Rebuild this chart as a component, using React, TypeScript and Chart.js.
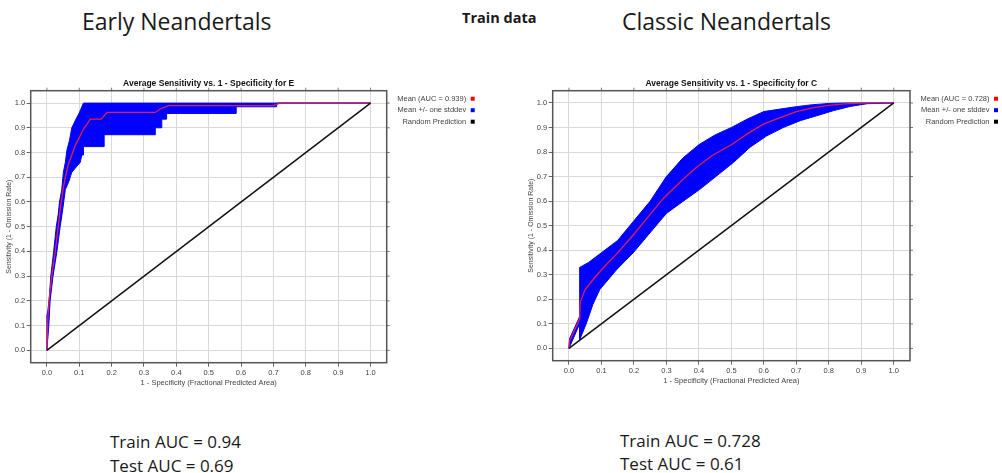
import React, { useEffect, useRef } from 'react';
import { Chart, registerables } from 'chart.js';
Chart.register(...registerables);

// ---------- shared axis ticks ----------
const tickValues = [0, 0.1, 0.2, 0.3, 0.4, 0.5, 0.6, 0.7, 0.8, 0.9, 1.0];
const tickLabels = ['0.0', '0.1', '0.2', '0.3', '0.4', '0.5', '0.6', '0.7', '0.8', '0.9', '1.0'];

// Random prediction diagonal
const randomX = [0, 1];
const randomY = [0, 1];

// ---------- Early Neandertals (E) ----------
const eMeanX = [0, 0.003, 0.008, 0.015, 0.026, 0.035, 0.042, 0.05, 0.057, 0.066, 0.077, 0.088, 0.098, 0.113, 0.124, 0.134, 0.168, 0.178, 0.186, 0.335, 0.35, 0.376, 0.7, 0.72, 1.0];
const eMeanY = [0, 0.13, 0.22, 0.3, 0.4, 0.5, 0.58, 0.65, 0.7, 0.75, 0.79, 0.83, 0.855, 0.895, 0.915, 0.935, 0.935, 0.95, 0.962, 0.962, 0.976, 0.99, 0.99, 1.0, 1.0];
const eUpperX = [0, 0, 0.003, 0.008, 0.012, 0.021, 0.029, 0.035, 0.039, 0.046, 0.051, 0.057, 0.062, 0.07, 0.077, 0.088, 0.1, 0.113, 1.0];
const eUpperY = [0, 0.14, 0.16, 0.22, 0.3, 0.4, 0.5, 0.55, 0.6, 0.65, 0.72, 0.76, 0.81, 0.85, 0.9, 0.93, 0.96, 1.0, 1.0];
const eLowerX = [0, 0.006, 0.01, 0.019, 0.031, 0.041, 0.049, 0.057, 0.067, 0.077, 0.093, 0.103, 0.108, 0.113, 0.113, 0.177, 0.177, 0.335, 0.335, 0.355, 0.355, 0.37, 0.37, 0.585, 0.585, 0.71, 0.71, 1.0];
const eLowerY = [0, 0.1, 0.2, 0.3, 0.4, 0.5, 0.57, 0.65, 0.68, 0.72, 0.745, 0.76, 0.79, 0.79, 0.824, 0.824, 0.872, 0.872, 0.9, 0.9, 0.935, 0.935, 0.958, 0.958, 0.985, 0.985, 1.0, 1.0];

// ---------- Classic Neandertals (C) ----------
const cMeanX = [0, 0.002, 0.033, 0.035, 0.05, 0.08, 0.11, 0.14, 0.19, 0.24, 0.29, 0.34, 0.39, 0.44, 0.5, 0.55, 0.6, 0.65, 0.7, 0.75, 0.8, 0.85, 0.9, 0.93, 1.0];
const cMeanY = [0, 0.03, 0.12, 0.19, 0.24, 0.29, 0.335, 0.375, 0.45, 0.53, 0.61, 0.675, 0.735, 0.785, 0.83, 0.875, 0.915, 0.94, 0.965, 0.98, 0.99, 0.996, 0.999, 1.0, 1.0];
const cUpperX = [0, 0.002, 0.033, 0.033, 0.06, 0.1, 0.15, 0.2, 0.25, 0.3, 0.35, 0.4, 0.45, 0.5, 0.55, 0.6, 0.65, 0.7, 0.75, 0.8, 0.85, 1.0];
const cUpperY = [0, 0.04, 0.13, 0.33, 0.35, 0.39, 0.44, 0.52, 0.6, 0.7, 0.775, 0.83, 0.87, 0.9, 0.935, 0.965, 0.975, 0.985, 0.993, 0.998, 1.0, 1.0];
const cLowerX = [0, 0.033, 0.033, 0.053, 0.074, 0.095, 0.146, 0.198, 0.249, 0.3, 0.352, 0.403, 0.455, 0.506, 0.558, 0.609, 0.66, 0.712, 0.763, 0.815, 0.866, 0.918, 1.0];
const cLowerY = [0, 0.1, 0.035, 0.1, 0.18, 0.24, 0.32, 0.39, 0.47, 0.55, 0.6, 0.648, 0.703, 0.757, 0.82, 0.866, 0.9, 0.928, 0.948, 0.969, 0.986, 0.997, 1.0];

// ---------- text ----------
const legendLabelsE = ['Mean (AUC = 0.939)', 'Mean +/- one stddev', 'Random Prediction'];
const legendLabelsC = ['Mean (AUC = 0.728)', 'Mean +/- one stddev', 'Random Prediction'];
const legendColors = ['#ff0000', '#0000ff', '#000000'];
const chartTitleE = 'Average Sensitivity vs. 1 - Specificity for E';
const chartTitleC = 'Average Sensitivity vs. 1 - Specificity for C';
const xAxisTitle = '1 - Specificity (Fractional Predicted Area)';
const yAxisTitle = 'Sensitivity (1 - Omission Rate)';

const FONT = '"Liberation Sans", Arial, sans-serif';
const PAGE_FONT = '"Open Sans", "Noto Sans", sans-serif';

const pts = (xs: number[], ys: number[]) => xs.map((x, i) => ({ x, y: ys[i] }));

const framePlugin = {
  id: 'rocFrame',
  afterDatasetsDraw(chart: any) {
    const { ctx, chartArea: a, scales } = chart;
    ctx.save();
    ctx.strokeStyle = '#7a7a7a';
    ctx.lineWidth = 1;
    ctx.beginPath();
    for (const v of tickValues) {
      const x = scales.x.getPixelForValue(v);
      ctx.moveTo(x, a.top);
      ctx.lineTo(x, a.top - 3);
      const y = scales.y.getPixelForValue(v);
      ctx.moveTo(a.right, y);
      ctx.lineTo(a.right + 3, y);
    }
    ctx.stroke();
    ctx.strokeStyle = '#555555';
    ctx.lineWidth = 1.5;
    ctx.strokeRect(a.left, a.top, a.right - a.left, a.bottom - a.top);
    ctx.restore();
  },
};

const legendPlugin = {
  id: 'rocLegend',
  afterDraw(chart: any, _args: any, opts: any) {
    const { ctx, chartArea: a } = chart;
    ctx.save();
    ctx.font = `7.5px ${FONT}`;
    ctx.textAlign = 'right';
    ctx.textBaseline = 'middle';
    (opts.labels as string[]).forEach((t, i) => {
      const y = a.top + 8 + i * 11.5;
      ctx.fillStyle = '#444';
      ctx.fillText(t, a.right + 79.5, y);
      ctx.fillStyle = opts.colors[i];
      ctx.fillRect(a.right + 84, y - 2, 4, 4);
    });
    ctx.restore();
  },
};

type Layout = {
  left: number; top: number; width: number; height: number;
  yW: number; xH: number; padRight: number; yTitlePad: number; xTitlePad: number; xTickPad: number;
};

function RocChart(props: {
  title: string; meanX: number[]; meanY: number[]; upX: number[]; upY: number[];
  loX: number[]; loY: number[]; legend: string[]; L: Layout;
}) {
  const ref = useRef<HTMLCanvasElement | null>(null);
  const { L } = props;
  useEffect(() => {
    if (!ref.current) return;
    const tickFont = { family: FONT, size: 7.5 };
    const titleFont = { family: FONT, size: 7.5 };
    const chart = new Chart(ref.current, {
      type: 'line',
      data: {
        datasets: [
          { label: 'Random Prediction', data: pts(randomX, randomY), borderColor: '#111', borderWidth: 1.5, pointRadius: 0, fill: false, order: 0 },
          { label: 'Mean', data: pts(props.meanX, props.meanY), borderColor: '#e0204a', borderWidth: 1.3, pointRadius: 0, fill: false, order: 1 },
          { label: 'Mean + stddev', data: pts(props.upX, props.upY), borderColor: '#0000ff', backgroundColor: '#0000ff', borderWidth: 1, pointRadius: 0, fill: 3, order: 2 },
          { label: 'Mean - stddev', data: pts(props.loX, props.loY), borderColor: '#0000ff', borderWidth: 1, pointRadius: 0, fill: false, order: 3 },
        ],
      },
      options: {
        animation: false,
        responsive: false,
        events: [],
        layout: { padding: { left: 0, top: 0, right: L.padRight, bottom: 0 } },
        plugins: {
          legend: { display: false },
          tooltip: { enabled: false },
          title: {
            display: true, text: props.title, fullSize: false, color: '#111',
            font: { family: FONT, size: 8.5, weight: 'bold' }, padding: { top: 9, bottom: 1.5 },
          },
          rocLegend: { labels: props.legend, colors: legendColors },
        } as any,
        scales: {
          x: {
            type: 'linear', min: -0.05, max: 1.05,
            afterBuildTicks: (s: any) => { s.ticks = tickValues.map((v) => ({ value: v })); },
            afterFit: (s: any) => { s.height = L.xH; },
            ticks: { callback: (_v: any, i: number) => tickLabels[i], font: tickFont, color: '#444', padding: L.xTickPad, maxRotation: 0, autoSkip: false },
            grid: { color: '#d9d9d9', tickColor: '#666', tickLength: 4 },
            border: { display: false },
            title: { display: true, text: xAxisTitle, font: titleFont, color: '#444', padding: { top: 0, bottom: L.xTitlePad } },
          },
          y: {
            type: 'linear', min: -0.05, max: 1.05,
            afterBuildTicks: (s: any) => { s.ticks = tickValues.map((v) => ({ value: v })); },
            afterFit: (s: any) => { s.width = L.yW; },
            ticks: { callback: (_v: any, i: number) => tickLabels[i], font: tickFont, color: '#444', padding: 1.5, autoSkip: false },
            grid: { color: '#d9d9d9', tickColor: '#666', tickLength: 4 },
            border: { display: false },
            title: { display: true, text: yAxisTitle, font: { family: FONT, size: 7 }, color: '#444', padding: { top: L.yTitlePad, bottom: 0 } },
          },
        },
      } as any,
      plugins: [framePlugin, legendPlugin],
    });
    return () => chart.destroy();
  }, []);
  return (
    <canvas
      ref={ref}
      width={L.width}
      height={L.height}
      style={{ position: 'absolute', left: L.left, top: L.top, width: L.width, height: L.height }}
    />
  );
}

const layoutE: Layout = { left: 0, top: 70, width: 490, height: 322, yW: 30.7, xH: 29.3, padRight: 103.3, yTitlePad: 4.8, xTitlePad: 4.5, xTickPad: 2 };
const layoutC: Layout = { left: 520, top: 70, width: 482, height: 320, yW: 32.7, xH: 29.3, padRight: 92, yTitlePad: 7, xTitlePad: 4.1, xTickPad: 1.5 };

const txt = (left: number, top: number, size: number, bold = false): React.CSSProperties => ({
  position: 'absolute', left, top, fontSize: size, lineHeight: 1, fontFamily: PAGE_FONT,
  fontWeight: bold ? 700 : 400, color: '#1a1a1a', whiteSpace: 'nowrap',
});

export default function App() {
  return (
    <div style={{ position: 'absolute', left: 0, top: 0, width: 1002, height: 473, background: '#fff', overflow: 'hidden' }}>
      <div style={txt(82, 9.6, 23)}>Early Neandertals</div>
      <div style={txt(462, 11, 14.5, true)}>Train data</div>
      <div style={txt(622, 9.6, 23)}>Classic Neandertals</div>
      <RocChart title={chartTitleE} meanX={eMeanX} meanY={eMeanY} upX={eUpperX} upY={eUpperY} loX={eLowerX} loY={eLowerY} legend={legendLabelsE} L={layoutE} />
      <RocChart title={chartTitleC} meanX={cMeanX} meanY={cMeanY} upX={cUpperX} upY={cUpperY} loX={cLowerX} loY={cLowerY} legend={legendLabelsC} L={layoutC} />
      <div style={txt(110, 433, 17)}>Train AUC = 0.94</div>
      <div style={txt(110, 457, 17)}>Test AUC = 0.69</div>
      <div style={txt(620, 432, 17)}>Train AUC = 0.728</div>
      <div style={txt(620, 455, 17)}>Test AUC = 0.61</div>
    </div>
  );
}
